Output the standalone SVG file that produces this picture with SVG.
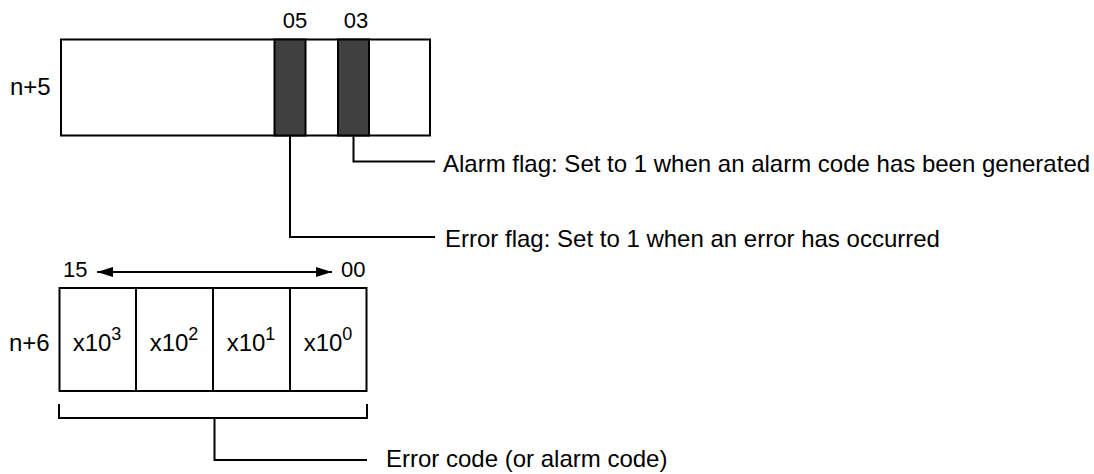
<svg xmlns="http://www.w3.org/2000/svg" width="1094" height="474" viewBox="0 0 1094 474">
<defs>
<style>
text{font-family:"Liberation Sans",Arial,sans-serif;fill:#000}
.t{font-size:24px}
.s{font-size:22px}
.sup{font-size:18px}
.ln{fill:none;stroke:#000;stroke-width:2}
.box{fill:#fff;stroke:#000;stroke-width:2}
.bar{fill:#404040;stroke:#000;stroke-width:2}
</style>
<marker id="ah" viewBox="0 0 16 10" refX="16" refY="5" markerWidth="16" markerHeight="10" markerUnits="userSpaceOnUse" orient="auto-start-reverse">
<path d="M0,0 L16,5 L0,10 Z" fill="#000"/>
</marker>
</defs>
<rect width="1094" height="474" fill="#fff"/>
<g id="word-n5">
<text class="t" x="10" y="95">n+5</text>
<rect class="box" x="61" y="39.5" width="369" height="96"/>
<rect class="bar" x="274.5" y="39.5" width="31" height="96"/>
<rect class="bar" x="338" y="39.5" width="31" height="96"/>
<text class="s" x="295" y="28" text-anchor="middle">05</text>
<text class="s" x="356" y="28" text-anchor="middle">03</text>
</g>
<g id="word-n6">
<text class="t" x="9" y="351">n+6</text>
<rect class="box" x="59.5" y="288" width="307" height="103"/>
<line class="ln" x1="136" y1="288" x2="136" y2="391"/>
<line class="ln" x1="213" y1="288" x2="213" y2="391"/>
<line class="ln" x1="290" y1="288" x2="290" y2="391"/>
<text class="t" x="97" y="351" text-anchor="middle">x10<tspan class="sup" dy="-11">3</tspan></text>
<text class="t" x="174" y="351" text-anchor="middle">x10<tspan class="sup" dy="-11">2</tspan></text>
<text class="t" x="251" y="351" text-anchor="middle">x10<tspan class="sup" dy="-11">1</tspan></text>
<text class="t" x="328" y="351" text-anchor="middle">x10<tspan class="sup" dy="-11">0</tspan></text>
<text class="s" x="63" y="277">15</text>
<text class="s" x="341" y="277">00</text>
</g>
<g id="label-alarm"><text class="t" x="443" y="172">Alarm flag: Set to 1 when an alarm code has been generated</text></g>
<g id="label-error"><text class="t" x="445" y="247">Error flag: Set to 1 when an error has occurred</text></g>
<g id="label-code"><text class="t" x="386" y="467">Error code (or alarm code)</text></g>
<g id="connectors">
<polyline class="ln" points="353.5,136 353.5,161.5 435,161.5"/>
<polyline class="ln" points="290,136 290,237 435,237"/>
<line class="ln" x1="97" y1="272" x2="332" y2="272" marker-start="url(#ah)" marker-end="url(#ah)"/>
<polyline class="ln" points="59,404 59,418 367,418 367,404"/>
<polyline class="ln" points="214.5,418 214.5,460 367,460"/>
</g>
</svg>
